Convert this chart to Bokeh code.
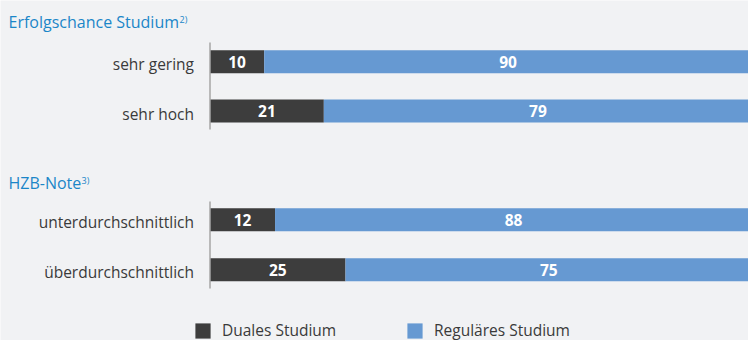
from bokeh.plotting import figure
from bokeh.models import Range1d, Label, Legend, LegendItem, ColumnDataSource
from bokeh.core.properties import value
from bokeh.embed import file_html
from bokeh.resources import INLINE

# ---- data ----
group_titles = ["Erfolgschance Studium", "HZB-Note"]
footnotes = ["2)", "3)"]
categories = [["sehr gering", "sehr hoch"],
              ["unterdurchschnittlich", "überdurchschnittlich"]]
dual = [[10, 21], [12, 25]]
regular = [[90, 79], [88, 75]]
series = ["Duales Studium", "Reguläres Studium"]

# ---- styles / layout ----
BG = "#f1f2f4"
DARK = "#3d3d3d"
BLUE = "#6699d2"
TITLE_C = "#1b86c8"
TEXT_C = "#3a3a3a"
FONT = "Open Sans"
W, H = 748, 340
PX = 5.42          # pixels per percent
X0 = 209.5         # canvas x of the 0 % line
BAR_H = 23
row_y = [[61.2, 110.4], [219.2, 269.2]]
title_y = [21.5, 182.5]
title_x = 8
foot_x = [179, 81]
foot_y = [19.0, 180.0]
axis_span = [[42, 129], [201, 288]]

p = figure(width=W, height=H, output_backend="svg", toolbar_location=None,
           x_range=Range1d(-X0 / PX, (W - X0) / PX), y_range=Range1d(H, 0),
           x_axis_location=None, y_axis_location=None, min_border=0,
           outline_line_color=None, background_fill_color=BG,
           border_fill_color=BG)
p.grid.visible = False

ys, cats, d, r = [], [], [], []
for g in range(len(categories)):
    for i, c in enumerate(categories[g]):
        ys.append(row_y[g][i])
        cats.append(c)
        d.append(dual[g][i])
        r.append(dual[g][i] + regular[g][i])
src = ColumnDataSource(dict(
    y=ys, cat=cats, dual=d, right=r,
    dual_txt=[str(v) for g in dual for v in g],
    reg_txt=[str(v) for g in regular for v in g],
    dual_mid=[v / 2 for v in d],
    reg_mid=[(a + b) / 2 for a, b in zip(d, r)],
    lab_y=[v + 2.7 for v in ys],
))

r_dual = p.hbar(y="y", left=0, right="dual", height=BAR_H, source=src,
                fill_color=DARK, line_color=None)
r_reg = p.hbar(y="y", left="dual", right="right", height=BAR_H, source=src,
               fill_color=BLUE, line_color=None)

for xcol, tcol in (("dual_mid", "dual_txt"), ("reg_mid", "reg_txt")):
    p.text(x=xcol, y="y", text=tcol, source=src,
           text_font=value(FONT), text_font_size="15.5px",
           text_font_style="bold", text_color="white", text_align="center",
           text_baseline="middle")

# category labels
p.text(x=0, y="lab_y", text="cat", source=src, x_offset=-16,
       text_font=value(FONT), text_font_size="15.5px", text_color=TEXT_C,
       text_align="right", text_baseline="middle")

# vertical axis lines per group
p.segment(x0=[0, 0], x1=[0, 0], y0=[s[0] for s in axis_span],
          y1=[s[1] for s in axis_span], line_color="#a6a6a6", line_width=1.5)

# group titles
for g, t in enumerate(group_titles):
    p.add_layout(Label(x=title_x, y=title_y[g], x_units="screen",
                       y_units="data", text=t, text_font=FONT,
                       text_font_size="16px", text_color=TITLE_C,
                       text_baseline="middle"))
    p.add_layout(Label(x=foot_x[g], y=foot_y[g], x_units="screen",
                       y_units="data", text=footnotes[g], text_font=FONT,
                       text_font_size="9px", text_color=TITLE_C,
                       text_baseline="middle"))

legend = Legend(items=[LegendItem(label=series[0], renderers=[r_dual]),
                       LegendItem(label=series[1], renderers=[r_reg])],
                orientation="horizontal", location=(193, -1),
                glyph_width=19, glyph_height=19, label_height=19,
                label_width=183, label_standoff=10, spacing=0, padding=0,
                margin=0, border_line_alpha=0, background_fill_alpha=0,
                label_text_font=FONT, label_text_font_size="15.5px",
                label_text_color=TEXT_C)
p.add_layout(legend)

open("out.html", "w").write(file_html(p, INLINE))
